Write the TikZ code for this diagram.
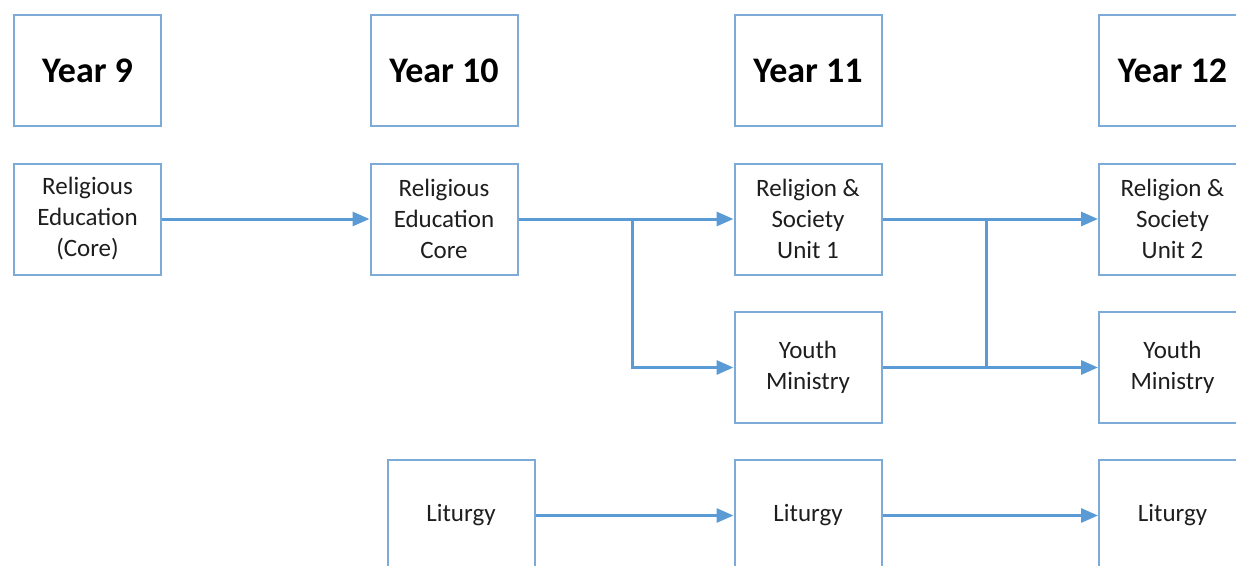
\documentclass[tikz,border=0pt]{standalone}
\usepackage{fontspec}
\setmainfont{Carlito}
\usetikzlibrary{arrows.meta}
\definecolor{boxblue}{RGB}{126,170,216}
\definecolor{lineblue}{RGB}{91,155,213}
\definecolor{inkgray}{RGB}{30,30,30}

\begin{document}
\begin{tikzpicture}[x=1pt,y=-1pt,
	yearbox/.style={draw=boxblue, line width=2pt, minimum width=147pt, minimum height=111pt, inner sep=0pt, text=black, font=\fontsize{36}{42}\selectfont\bfseries},
	unitbox/.style={draw=boxblue, line width=2pt, minimum width=147pt, minimum height=111pt, inner sep=0pt, align=center, text=inkgray, font=\fontsize{25}{31}\selectfont},
	link/.style={lineblue, line width=3pt, -{Triangle[length=17pt,width=14pt]}}]
		\useasboundingbox (0,0) rectangle (1236,565);
		\clip (0,0) rectangle (1236,565);
		\fill[white] (0,0) rectangle (1236,565);

		\node[yearbox] (y9)  at (87.5,70.5)   {Year 9};
		\node[yearbox] (y10) at (444,70.5)    {Year 10};
		\node[yearbox] (y11) at (808,70.5)    {Year 11};
		\node[yearbox] (y12) at (1172.5,70.5) {Year 12};

		\node[unitbox] (re9)  at (87.5,219)     {Religious\\Education\\(Core)};
		\node[unitbox] (re10) at (444,219)      {Religious\\Education\\Core};
		\node[unitbox] (rs11) at (808,219)      {Religion \&\\Society\\Unit 1};
		\node[unitbox] (ym11) at (808,367.5)    {Youth\\Ministry};
		\node[unitbox] (rs12) at (1172.5,219)   {Religion \&\\Society\\Unit 2};
		\node[unitbox] (ym12) at (1172.5,367.5) {Youth\\Ministry};
		\node[unitbox] (li10) at (461,515.5)    {Liturgy};
		\node[unitbox] (li11) at (808,515.5)    {Liturgy};
		\node[unitbox] (li12) at (1172.5,515.5) {Liturgy};

		\coordinate (fork10) at (632,219);
		\coordinate (fork11) at (986,219);

		\draw[link] (re9) -- (re10);
		\draw[link] (re10) -- (rs11);
		\draw[link] (fork10) |- (ym11);
		\draw[link] (rs11) -- (rs12);
		\draw[link] (ym11) -- (ym12);
		\draw[lineblue, line width=3pt] (fork11) -- (fork11 |- ym11);
		\draw[link] (li10) -- (li11);
		\draw[link] (li11) -- (li12);
	\end{tikzpicture}
\end{document}
